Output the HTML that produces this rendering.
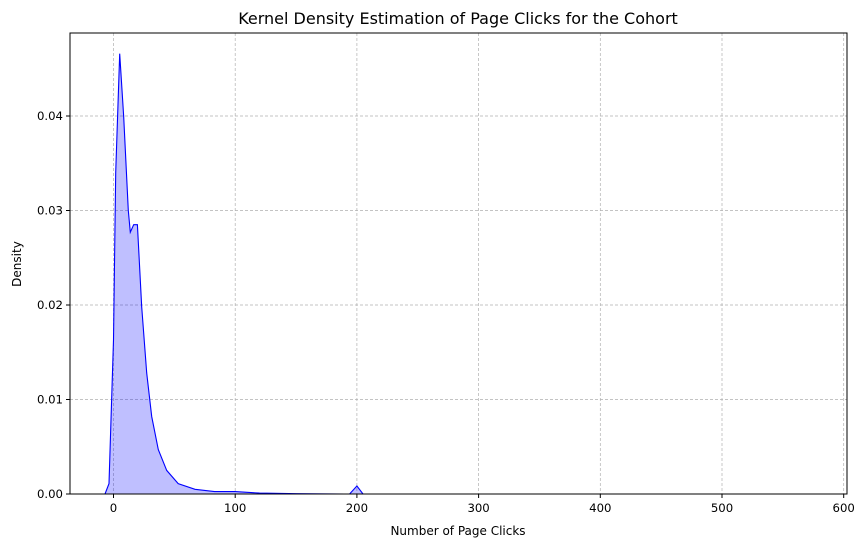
<!DOCTYPE html>
<html><head><meta charset="utf-8"><style>
body{margin:0;background:#fff;font-family:"DejaVu Sans",sans-serif}
</style></head><body>
<svg id="chart" width="865" height="547" xmlns="http://www.w3.org/2000/svg" font-family="DejaVu Sans, sans-serif">
<text x="458" y="24" text-anchor="middle" font-size="16">Kernel Density Estimation of Page Clicks for the Cohort</text>
<text x="458" y="535" text-anchor="middle" font-size="12">Number of Page Clicks</text>
<text transform="translate(21,264) rotate(-90)" text-anchor="middle" font-size="12">Density</text>
<g id="grid"></g><g id="marks"></g><g id="axes"></g>
</svg>
<script>
const xTicks=[0,100,200,300,400,500,600];
const yTicks=[0,0.01,0.02,0.03,0.04];
const clicks=[-7,-3.7,0,1.8,5.1,8.4,12.2,13.8,16.6,19.6,23.2,27.3,31.4,36.8,43.7,53.2,67,83,100,120,150,190,194,200,205,250,400,572];
const density=[0,0.0011,0.0163,0.034,0.0466,0.0399,0.030,0.0277,0.0285,0.0285,0.0198,0.0128,0.0082,0.0047,0.0025,0.0011,0.0005,0.00025,0.00025,0.0001,0.00003,0,0,0.00085,0,0,0,0];
const L=70,R=847,T=33,B=494;
const xs=v=>113.5+v*1.217;
const ys=v=>B-v*9450;
const NS="http://www.w3.org/2000/svg";
function mk(tag,attrs,parent){const e=document.createElementNS(NS,tag);for(const k in attrs)e.setAttribute(k,attrs[k]);document.getElementById(parent).appendChild(e);return e;}
xTicks.forEach(t=>{const x=xs(t);
 if(x<R){const g=mk('line',{x1:x,x2:x,y1:T,y2:B,stroke:'#b0b0b0','stroke-width':0.7,'stroke-dasharray':'3,2'},'grid');
 
 }
 const tk=mk('line',{x1:x,x2:x,y1:B,y2:B+4,stroke:'#000'},'axes');
 
 
 const lb=mk('text',{x:x,y:B+18,'text-anchor':'middle','font-size':11.7},'axes');lb.textContent=t;
 
 });
yTicks.forEach(t=>{const y=ys(t);
 const g=mk('line',{x1:L,x2:R,y1:y,y2:y,stroke:'#b0b0b0','stroke-width':0.7,'stroke-dasharray':'3,2'},'grid');
 
 
 const tk=mk('line',{x1:L-4,x2:L,y1:y,y2:y,stroke:'#000'},'axes');
 
 
 const lb=mk('text',{x:L-7,y:y+4,'text-anchor':'end','font-size':11.7},'axes');lb.textContent=t.toFixed(2);
 
 });
const pts=clicks.map((c,i)=>xs(c).toFixed(1)+','+ys(density[i]).toFixed(1));
const area=mk('polygon',{points:pts.join(' ')+' '+xs(clicks[clicks.length-1])+','+B+' '+xs(clicks[0])+','+B,fill:'#0000ff',opacity:0.25},'marks');


const line=mk('polyline',{points:pts.join(' '),fill:'none',stroke:'#0000ff','stroke-width':1.1},'marks');


const frame=mk('rect',{x:L,y:T,width:R-L,height:B-T,fill:'none',stroke:'#000','stroke-width':1},'axes');


</script>
</body></html>
